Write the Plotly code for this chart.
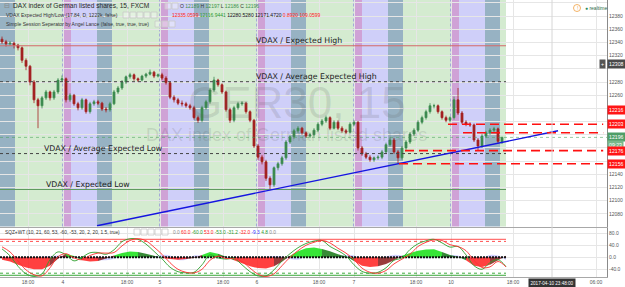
import plotly.graph_objects as go

# ------------------------------------------------------------------ data
opens = [12345,12341,12338,12339,12336,12332,12313,12304,12280,12253,
         12244,12256,12265,12256,12265,12283,12285,12253,12260,12247,
         12241,12253,12235,12247,12250,12248,12239,12238,12247,12265,
         12271,12280,12288,12291,12285,12283,12289,12292,12295,12289,
         12291,12286,12279,12257,12253,12248,12247,12244,12241,12226,
         12222,12241,12250,12268,12283,12276,12265,12238,12222,12241,
         12247,12248,12235,12222,12183,12166,12159,12134,12124,12150,
         12156,12165,12189,12197,12206,12210,12203,12198,12200,12207,
         12216,12221,12226,12210,12219,12210,12206,12204,12216,12219,
         12180,12171,12166,12162,12165,12166,12174,12185,12192,12174,
         12165,12180,12189,12201,12207,12219,12226,12235,12244,12244,
         12235,12226,12222,12226,12253,12233,12219,12216,12215,12192,
         12183,12198,12203,12207,12209,12189]
highs = [12349,12344,12342,12341,12338,12334,12316,12306,12283,12256,
         12259,12268,12267,12268,12286,12290,12287,12263,12262,12250,
         12256,12255,12250,12253,12253,12250,12242,12250,12268,12274,
         12283,12290,12294,12293,12287,12291,12294,12299,12297,12293,
         12294,12289,12281,12260,12256,12252,12250,12247,12244,12229,
         12244,12253,12271,12288,12285,12278,12267,12241,12244,12250,
         12251,12250,12237,12224,12186,12169,12162,12137,12152,12159,
         12168,12192,12200,12209,12213,12212,12205,12203,12210,12219,
         12224,12229,12228,12222,12222,12213,12209,12219,12222,12221,
         12183,12174,12169,12167,12169,12177,12188,12196,12195,12177,
         12183,12192,12204,12210,12222,12229,12238,12248,12247,12246,
         12237,12229,12228,12258,12271,12236,12222,12219,12217,12195,
         12201,12206,12210,12212,12211,12197]
lows = [12338,12334,12335,12331,12328,12309,12298,12275,12248,12210,
        12240,12253,12252,12253,12262,12280,12249,12250,12244,12237,
        12238,12232,12232,12244,12245,12236,12234,12235,12245,12262,
        12268,12277,12285,12282,12280,12281,12286,12290,12286,12287,
        12283,12276,12254,12249,12245,12243,12241,12238,12223,12218,
        12219,12238,12247,12265,12273,12262,12235,12218,12219,12238,
        12244,12232,12219,12180,12162,12155,12130,12116,12121,12146,
        12153,12162,12186,12194,12203,12200,12195,12195,12197,12204,
        12213,12218,12207,12208,12207,12203,12201,12202,12213,12176,
        12168,12163,12159,12159,12162,12163,12171,12182,12171,12156,
        12162,12177,12186,12198,12204,12216,12223,12232,12240,12232,
        12223,12219,12219,12223,12230,12216,12213,12212,12189,12176,
        12180,12195,12200,12204,12187,12186]
closes = [12341,12338,12339,12336,12332,12313,12304,12280,12253,12244,
          12256,12265,12256,12265,12283,12285,12253,12260,12247,12241,
          12253,12235,12247,12250,12248,12239,12238,12247,12265,12271,
          12280,12288,12291,12285,12283,12289,12292,12295,12289,12291,
          12286,12279,12257,12253,12248,12247,12244,12241,12226,12222,
          12241,12250,12268,12283,12276,12265,12238,12222,12241,12247,
          12248,12235,12222,12183,12166,12159,12134,12124,12150,12156,
          12165,12189,12197,12206,12210,12203,12198,12200,12207,12216,
          12221,12226,12210,12219,12210,12206,12204,12216,12219,12180,
          12171,12166,12162,12165,12166,12174,12185,12192,12174,12165,
          12180,12189,12201,12207,12219,12226,12235,12244,12244,12235,
          12226,12222,12226,12253,12233,12219,12216,12215,12192,12183,
          12198,12203,12207,12209,12190,12196]

# x axis (bar index) tick labels
tick_pos = [6.5, 15.25, 31.25, 39.5, 55.25, 63.75, 79.25, 88.0, 103.5, 112.25, 127.75, 148.5]
tick_text = ["18:00", "4", "18:00", "5", "18:00", "6", "18:00", "7", "18:00", "10", "18:00", "06:00"]

# price axis ticks; labels hidden behind the right-hand price boxes are left blank
price_ticks = list(range(12080, 12401, 20))
hidden_price_labels = [12160, 12180, 12200, 12220, 12240, 12300]

# session separator: day starts (bar index) and session offsets (bars)
day_starts = [-9.0, 15.25, 39.5, 63.75, 88.0, 112.25]
session_spans = [(0, 2), (2, 8.5), (8.5, 12.25), (12.25, 24.25)]

# VDAX expected levels
level_names = ["VDAX / Expected High", "VDAX / Average Expected High",
               "VDAX / Average Expected Low", "VDAX / Expected Low"]
level_values = [12335.0599, 12280.5280, 12171.4720, 12116.9441]
level_label_bar = [63.25, 63.25, 10.25, 10.75]

# drawn support / resistance levels
sr_levels = [12216, 12203, 12176, 12156]
sr_from_bar = [111.5, 115.25, 100.75, 99.25]

# drawn trend line
trend_x = [23.75, 139.0]
trend_y = [12062.0, 12206.0]

last_price = 12196
cross_price = 12308

# oscillator (SQZ+WT), sampled every 2 bars
osc_x = list(range(0, 128, 2))
wt1 = [28, 5, -30, -55, -64, -55, -8, 18, 8, -12,
       0, 15, 16, 10, 25, 52, 62, 60, 44, 20,
       -5, -33, -48, -52, -50, -25, 8, -2, -6, -4,
       -25, -48, -62, -62, -42, -12, 12, 32, 46, 54,
       56, 36, 22, 5, -25, -47, -53, -50, -35, -10,
       -2, 26, 45, 55, 60, 48, 34, 36, 8, -28,
       -40, -18, -8, -31.2]
wt2 = [35, 18, -12, -42, -58, -62, -35, 2, 12, -2,
       -8, 6, 14, 14, 16, 38, 56, 62, 55, 34,
       10, -18, -40, -50, -52, -40, -10, 4, -4, -5,
       -14, -36, -56, -64, -55, -28, 0, 22, 40, 50,
       56, 48, 30, 14, -8, -36, -50, -53, -44, -22,
       -6, 10, 36, 50, 58, 56, 42, 36, 22, -10,
       -34, -32, -14, -32.0]
mom = [-8, -14, -25, -34, -40, -40, -28, -5, 12, 4,
       -10, -14, -12, -4, 6, 14, 19, 18, 12, 5,
       -2, -6, -8, -6, -2, 8, 18, 12, 2, -10,
       -20, -30, -36, -37, -30, -15, 5, 20, 30, 33,
       28, 20, 10, 3, -12, -28, -32, -30, -22, -10,
       5, 14, 22, 26, 27, 18, 8, 2, -10, -28,
       -32, -25, -10, 4.8]
blue = [-4, -8, -6, -3, 0, 2, 4, 6, 4, 2,
        -3, -6, -9, -10, -5, 2, 4, 3, 2, 4,
        8, 6, -9, -8, 6, 5, 2, 0, -3, -4,
        -3, -2, 0, 2, 4, 3, -6, -8, 2, 3,
        2, 1, 4, 8, 6, -4, -3, -2, 3, 8,
        6, 3, -2, -3, -2, 6, 8, 6, -4, -6,
        -3, 8, 6, -9.3]
ob_levels = [60, 53]
os_levels = [-60, -53]

# ------------------------------------------------------------------ layout constants
W, H = 625, 287
ML, MR, MT, MB = 0, 18, 0, 10
PW, PH = W - ML - MR, H - MT - MB
X_MIN, X_MAX = -0.5, 151.25
Y_MIN, Y_MAX = 12060.8, 12404.5
OY_MIN, OY_MAX = -65.7, 97.7
MAIN_DOM = [1 - 226.5 / PH, 1]
OSC_DOM = [0, 1 - 228 / PH]
FONT = "Liberation Sans, Arial, sans-serif"
N = len(closes)
data_end = N

def pxx(p):
    return p / PW

def pxy(p):
    return 1 - p / PH

fig = go.Figure()
shapes = []
annotations = []

# session backgrounds
sess_colors = ["#cfa2d6", "#cfcff9", "#97b2c3", "#d4ebd0"]
for d in day_starts:
    for (a, b), c in zip(session_spans, sess_colors):
        x0 = max(d + a, X_MIN)
        x1 = min(d + b, data_end)
        if x1 <= x0:
            continue
        shapes.append(dict(type="rect", xref="x", yref="y domain", x0=x0, x1=x1, y0=0, y1=1,
                           fillcolor=c, line=dict(width=0), layer="below"))
for d in day_starts[1:]:
    shapes.append(dict(type="line", xref="x", yref="y domain", x0=d, x1=d, y0=0, y1=1,
                       line=dict(color="rgba(110,90,230,0.9)", width=1, dash="3px,2px"), layer="below"))

# watermark
annotations.append(dict(text="GER30, 15", xref="paper", yref="paper", x=pxx(297), y=pxy(103),
                        showarrow=False, font=dict(family=FONT, size=44, color="rgba(90,90,90,0.17)")))
annotations.append(dict(text="DAX index of German listed shares", xref="paper", yref="paper",
                        x=pxx(286), y=pxy(135), showarrow=False,
                        font=dict(family=FONT, size=18, color="rgba(90,90,90,0.17)")))

# VDAX level lines
lvl_styles = [dict(color="#d46a6a", width=1),
              dict(color="#444444", width=1, dash="dot"),
              dict(color="#444444", width=1, dash="dot"),
              dict(color="#5f9a5f", width=1)]
for name, v, lx, st in zip(level_names, level_values, level_label_bar, lvl_styles):
    fig.add_trace(go.Scatter(x=[X_MIN, data_end], y=[v, v], mode="lines", line=st,
                             hoverinfo="skip", xaxis="x", yaxis="y"))
    annotations.append(dict(text=name, xref="x", yref="y", x=lx, y=v, xanchor="left", yanchor="bottom",
                            showarrow=False, borderpad=0, yshift=0,
                            font=dict(family="DejaVu Sans, sans-serif", size=7.8, color="#222222")))

# candles
fig.add_trace(go.Candlestick(x=list(range(N)), open=opens, high=highs, low=lows, close=closes,
                             increasing=dict(line=dict(color="#3d8b50", width=0.8), fillcolor="#3d8b50"),
                             decreasing=dict(line=dict(color="#a32222", width=0.8), fillcolor="#a32222"),
                             whiskerwidth=0, xaxis="x", yaxis="y", hoverinfo="skip"))

# last price line
fig.add_trace(go.Scatter(x=[X_MIN, X_MAX], y=[last_price, last_price], mode="lines",
                         line=dict(color="rgba(70,160,90,0.55)", width=1, dash="dot"),
                         hoverinfo="skip", xaxis="x", yaxis="y"))

# trend line
fig.add_trace(go.Scatter(x=trend_x, y=trend_y, mode="lines", line=dict(color="#1515e0", width=1.4),
                         hoverinfo="skip", xaxis="x", yaxis="y"))

# support / resistance dashed lines
for lv, x0 in zip(sr_levels, sr_from_bar):
    fig.add_trace(go.Scatter(x=[x0, 150.3], y=[lv, lv], mode="lines",
                             line=dict(color="#ff1010", width=1.6, dash="9px,5px"),
                             hoverinfo="skip", xaxis="x", yaxis="y"))

# crosshair vertical
shapes.append(dict(type="line", xref="x", yref="paper", x0=137.5, x1=137.5, y0=0, y1=1,
                   line=dict(color="#d6d6d6", width=1)))

# ------------------------------------------------------------------ oscillator
fig.add_trace(go.Scatter(x=osc_x, y=blue, mode="none", fill="tozeroy", line_shape="spline",
                         fillcolor="rgba(120,120,255,0.35)", hoverinfo="skip", xaxis="x2", yaxis="y2"))

cats = []
for k, v in enumerate(mom):
    p = mom[k - 1] if k > 0 else v
    if v >= 0:
        cats.append("lime" if v >= p else "green")
    else:
        cats.append("red" if v <= p else "maroon")
cat_col = {"lime": "rgba(20,225,20,0.85)", "green": "rgba(20,120,20,0.85)",
           "red": "rgba(255,30,30,0.85)", "maroon": "rgba(135,25,25,0.85)"}
k = 0
M = len(mom)
while k < M:
    j = k
    while j + 1 < M and cats[j + 1] == cats[k]:
        j += 1
    fig.add_trace(go.Scatter(x=osc_x[k:j + 2], y=mom[k:j + 2], mode="none", fill="tozeroy",
                             fillcolor=cat_col[cats[k]], hoverinfo="skip", xaxis="x2", yaxis="y2"))
    k = j + 1

fig.add_trace(go.Scatter(x=[X_MIN, data_end], y=[0, 0], mode="lines",
                         line=dict(color="#111111", width=2, dash="2px,1px"),
                         hoverinfo="skip", xaxis="x2", yaxis="y2"))
for v, d in zip(ob_levels, ["solid", "dot"]):
    fig.add_trace(go.Scatter(x=[X_MIN, data_end], y=[v, v], mode="lines",
                             line=dict(color="rgba(255,60,60,0.9)", width=1, dash=d),
                             hoverinfo="skip", xaxis="x2", yaxis="y2"))
for v, d in zip(os_levels, ["solid", "dot"]):
    fig.add_trace(go.Scatter(x=[X_MIN, data_end], y=[v, v], mode="lines",
                             line=dict(color="rgba(40,160,40,0.9)", width=1, dash=d),
                             hoverinfo="skip", xaxis="x2", yaxis="y2"))
fig.add_trace(go.Scatter(x=osc_x, y=wt1, mode="lines", line_shape="spline",
                         line=dict(color="#2fa02f", width=0.9), hoverinfo="skip", xaxis="x2", yaxis="y2"))
fig.add_trace(go.Scatter(x=osc_x, y=wt2, mode="lines", line_shape="spline",
                         line=dict(color="#ff3030", width=0.9), hoverinfo="skip", xaxis="x2", yaxis="y2"))

# ------------------------------------------------------------------ legends / headers
def header(text, x, y, size=5, color="#333333", anchor="left"):
    annotations.append(dict(text=text, xref="paper", yref="paper", x=pxx(x), y=pxy(y),
                            xanchor=anchor, yanchor="middle", showarrow=False,
                            font=dict(family=FONT, size=size, color=color)))

def col(t, c):
    return '<span style="color:%s">%s</span>' % (c, t)

header("⊟", 2, 6, size=7, color="#888888")
header("DAX index of German listed shares, 15, FXCM", 11, 6, size=6.6, color="#2a2a2a")
G = "#3f8f4f"
header("O " + col("12189", G) + " H " + col("12197", G) + " L " + col("12186", G) + " C " + col("12196", G),
       178, 6, size=5)
header("VDAX Expected High/Low (17.84, D, 1222k, false)", 4, 15, size=5)
header(col("12335.0599", "#ff2020") + " " + col("12116.9441", "#2a9a2a") + " 12280.5280 12171.4720 "
       + col("0.8920", "#ff2020") + " " + col("109.0599", "#ff2020"), 170, 15, size=5, color="#111111")
header("Simple Session Seperator by Angel Lance (false, true, true, true)", 4, 24, size=5)
header("SQZ+WT (10, 21, 60, 53, -60, -53, 20, 2, 20, 1.5, true)", 3, 232, size=4.8)
header(col("0.0", "#888888") + " " + col("60.0", "#ff2020") + " " + col("-60.0", "#2a9a2a") + " "
       + col("53.0", "#ff2020") + " " + col("-53.0", "#2a9a2a") + " " + col("-31.2", "#2a9a2a") + " "
       + col("-32.0", "#ff2020") + " " + col("-9.3", "#3030ff") + " " + col("4.8", "#2a9a2a") + " "
       + col("0.0", "#888888"), 171, 232, size=4.8)

# small icon boxes in legends
for x0, cnt, yc in [(165, 2, 6), (123, 5, 15), (155, 3, 24), (134, 5, 232)]:
    for i in range(cnt):
        bx = x0 + i * 7
        shapes.append(dict(type="rect", xref="paper", yref="paper", x0=pxx(bx), x1=pxx(bx + 6),
                           y0=pxy(yc + 3), y1=pxy(yc - 3), line=dict(color="#c9c9c9", width=0.8),
                           fillcolor="rgba(255,255,255,0.35)"))

# realtime badge
shapes.append(dict(type="circle", xref="paper", yref="paper", x0=pxx(573.5), x1=pxx(580.5),
                   y0=pxy(11.5), y1=pxy(4.5), line=dict(color="#f0a040", width=0.8)))
header(col("!", "#f0a040"), 577, 8, size=5, anchor="center")
header(col("●", "#2e8b57") + " realtime", 583, 8, size=5, color="#2e6b45")

# right axis price labels
def price_box(text, price, bg, yshift=0, fg="white", yref="y"):
    annotations.append(dict(text=text, xref="paper", yref=yref, x=1.0, y=price, xanchor="left",
                            yanchor="middle", yshift=yshift, showarrow=False, bgcolor=bg, borderpad=1,
                            font=dict(family=FONT, size=5.2, color=fg)))

price_box("12216", 12216, "#ff1515", yshift=14)
price_box("12203", 12203, "#ff1515", yshift=9)
price_box("12196", 12196, "#4f9e68")
price_box("09:23", 12196, "#78b88a", yshift=-8)
price_box("12176", 12176, "#ff1515")
price_box("12156", 12156, "#ff1515")
price_box("12308", cross_price, "#4a4a4a")
annotations.append(dict(text="+", xref="paper", yref="y", x=1.0, y=cross_price, xanchor="right",
                        yanchor="middle", xshift=-1, showarrow=False, bgcolor="#555555", borderpad=1,
                        font=dict(family=FONT, size=5.2, color="white")))
# crosshair time label
annotations.append(dict(text="2017-04-10 23:48:00", xref="x2", yref="paper", x=137.5, y=0,
                        xanchor="center", yanchor="top", yshift=-1, showarrow=False, bgcolor="#333333",
                        borderpad=1.5, font=dict(family=FONT, size=4.6, color="white")))

GRID = "#e6e6e6"
fig.update_layout(
    width=W, height=H, margin=dict(l=ML, r=MR, t=MT, b=MB),
    paper_bgcolor="white", plot_bgcolor="white", showlegend=False,
    shapes=shapes, annotations=annotations, hovermode=False,
    xaxis=dict(domain=[0, 1], range=[X_MIN, X_MAX], anchor="y", tickvals=tick_pos,
               showticklabels=False, showgrid=True, gridcolor=GRID, zeroline=False,
               showline=True, linecolor="#a8a8a8", ticks="", rangeslider=dict(visible=False)),
    yaxis=dict(domain=MAIN_DOM, range=[Y_MIN, Y_MAX], side="right",
               tickvals=price_ticks,
               ticktext=["" if v in hidden_price_labels else str(v) for v in price_ticks],
               tickfont=dict(family=FONT, size=5, color="#555555"), showgrid=True, gridcolor=GRID,
               zeroline=False, showline=True, linecolor="#8a8a8a", ticks=""),
    xaxis2=dict(domain=[0, 1], range=[X_MIN, X_MAX], anchor="y2", matches="x", tickvals=tick_pos,
                ticktext=tick_text, tickfont=dict(family=FONT, size=5, color="#555555"),
                showgrid=True, gridcolor=GRID, zeroline=False, showline=True, linecolor="#a8a8a8",
                ticks=""),
    yaxis2=dict(domain=OSC_DOM, range=[OY_MIN, OY_MAX], side="right", anchor="x2",
                tickvals=[-40, 0, 40, 80], ticktext=["-40.0", "0.0", "40.0", "80.0"],
                tickfont=dict(family=FONT, size=5, color="#555555"), showgrid=True, gridcolor=GRID,
                zeroline=False, showline=True, linecolor="#8a8a8a", ticks=""),
)

fig.write_html("out.html", config={"displayModeBar": False})
